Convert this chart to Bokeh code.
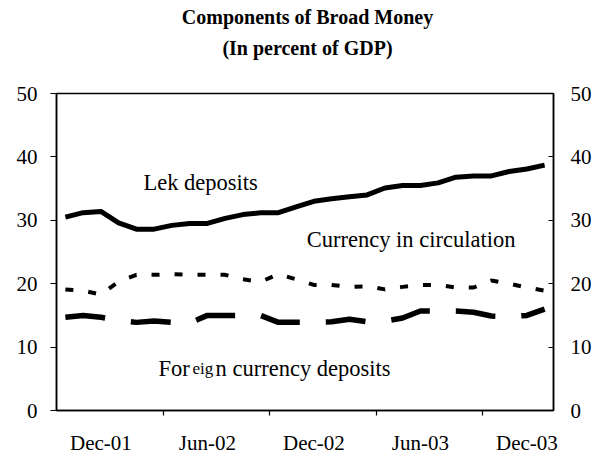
from bokeh.plotting import figure
from bokeh.models import LinearAxis, FixedTicker, Range1d
from bokeh.layouts import column
from bokeh.core.properties import value
from bokeh.embed import file_html
from bokeh.resources import INLINE

# Monthly observations, Oct-01 .. Jan-04 (28 months)
months = ["Oct-01", "Nov-01", "Dec-01", "Jan-02", "Feb-02", "Mar-02", "Apr-02",
          "May-02", "Jun-02", "Jul-02", "Aug-02", "Sep-02", "Oct-02", "Nov-02",
          "Dec-02", "Jan-03", "Feb-03", "Mar-03", "Apr-03", "May-03", "Jun-03",
          "Jul-03", "Aug-03", "Sep-03", "Oct-03", "Nov-03", "Dec-03", "Jan-04"]
lek_deposits = [30.5, 31.2, 31.4, 29.6, 28.6, 28.6, 29.2, 29.5, 29.5, 30.3,
                30.9, 31.2, 31.2, 32.1, 33.0, 33.4, 33.7, 34.0, 35.1, 35.5,
                35.5, 35.9, 36.8, 37.0, 37.0, 37.7, 38.1, 38.7]
currency = [19.1, 18.9, 18.3, 20.3, 21.4, 21.4, 21.5, 21.4, 21.4, 21.4,
            20.7, 20.3, 21.5, 20.7, 19.8, 19.8, 19.5, 19.6, 19.1, 19.5,
            19.8, 19.8, 19.4, 19.4, 20.5, 20.0, 19.4, 18.9]
foreign = [14.7, 15.0, 14.7, 14.2, 13.9, 14.1, 13.9, 13.8, 15.0, 15.0,
           15.0, 15.0, 13.9, 13.9, 13.9, 14.0, 14.4, 14.0, 14.1, 14.6,
           15.7, 15.7, 15.7, 15.5, 14.9, 14.8, 15.0, 16.0]
tick_labels = ["Dec-01", "Jun-02", "Dec-02", "Jun-03", "Dec-03"]
title_lines = ["Components of Broad Money", "(In percent of GDP)"]

xs = [i + 0.5 for i in range(len(months))]
label_pos = [months.index(m) + 0.5 for m in tick_labels]
boundaries = [6, 12, 18, 24]

FONT = "Liberation Serif"
FS = "21px"
AS = "22.5px"

W, H = 603, 464
TH = 83
ML, MR, MT, MB = 56, 50, 10, 54

# ---- title strip ----
t = figure(width=W, height=TH, output_backend="svg", toolbar_location=None,
           x_range=Range1d(0, W), y_range=Range1d(0, TH), min_border=0,
           outline_line_color=None, background_fill_color="white",
           border_fill_color="white")
t.axis.visible = False
t.xgrid.visible = False
t.ygrid.visible = False
t.text(x=[ML + (W - ML - MR) / 2] * 2, y=[67, 36], text=title_lines,
       text_font=value(FONT), text_font_size=value("20px"),
       text_font_style="bold", text_color="black",
       text_align="center", text_baseline="alphabetic")

# ---- main chart ----
p = figure(width=W, height=H - TH, output_backend="svg", toolbar_location=None,
           x_range=Range1d(0, len(months)), y_range=Range1d(0, 50),
           min_border_left=ML, min_border_right=MR, min_border_top=MT,
           min_border_bottom=MB, background_fill_color="white",
           border_fill_color="white")
p.outline_line_color = "black"
p.outline_line_width = 1.5
p.xgrid.visible = False
p.ygrid.visible = False

# bottom axis
xa = p.xaxis[0]
xa.ticker = FixedTicker(ticks=label_pos, minor_ticks=boundaries)
xa.major_label_overrides = {pos: lab for pos, lab in zip(label_pos, tick_labels)}
xa.major_tick_line_color = None
xa.minor_tick_line_color = "black"
xa.minor_tick_line_width = 1.2
xa.minor_tick_out = 5
xa.minor_tick_in = 0
xa.major_label_standoff = 14
xa.axis_line_width = 1.5
xa.major_label_text_font = FONT
xa.major_label_text_font_size = FS
xa.major_label_text_color = "black"

# left axis
ya = p.yaxis[0]
ya.ticker = FixedTicker(ticks=[0, 10, 20, 30, 40, 50])
ya.major_tick_out = 6
ya.major_tick_in = 0
ya.minor_tick_line_color = None
ya.major_label_standoff = 13
ya.axis_line_width = 1.5
ya.major_label_text_font = FONT
ya.major_label_text_font_size = FS
ya.major_label_text_color = "black"

# right axis
ra = LinearAxis(ticker=FixedTicker(ticks=[0, 10, 20, 30, 40, 50]))
ra.major_tick_out = 0
ra.major_tick_in = 5
ra.minor_tick_line_color = None
ra.major_label_standoff = 17
ra.axis_line_width = 1.5
ra.major_label_text_font = FONT
ra.major_label_text_font_size = FS
ra.major_label_text_color = "black"
p.add_layout(ra, "right")

# series
p.line(xs, lek_deposits, line_color="black", line_width=5, line_join="round")
p.line(xs, currency, line_color="black", line_width=4, line_dash="8 15")
p.line(xs, foreign, line_color="black", line_width=5.5, line_dash="40 26")

# annotations
tk = dict(text_font=value(FONT), text_font_size=value(AS), text_color="black",
          text_baseline="alphabetic", text_align="left")
p.text(x=[4.9], y=[36.0], text=["Lek deposits"], **tk)
p.text(x=[14.1], y=[26.9], text=["Currency in circulation"], **tk)
p.text(x=[5.75], y=[6.7], text=["For"], **tk)
p.text(x=[5.75], y=[6.7], text=["eig"], x_offset=34,
       text_font=value(FONT), text_font_size=value("17px"), text_color="black",
       text_baseline="alphabetic", text_align="left")
p.text(x=[5.75], y=[6.7], text=["n currency deposits"], x_offset=57, **tk)

open("out.html", "w").write(file_html(column(t, p, spacing=0), INLINE))
